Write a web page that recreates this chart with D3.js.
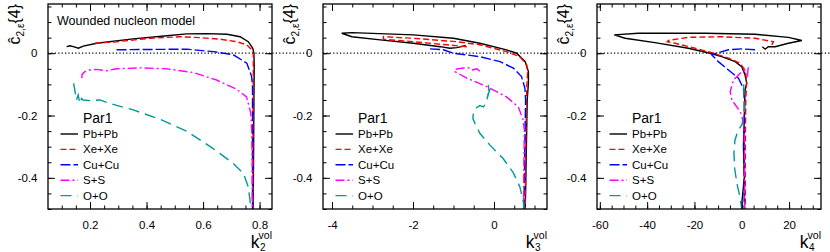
<!DOCTYPE html>
<html>
<head>
<meta charset="utf-8">
<script src="https://cdn.jsdelivr.net/npm/d3@7"></script>
<style>
  body { margin: 0; background: #fff; }
  svg { display: block; }
  text { font-family: "Liberation Sans", Arial, sans-serif; fill: #000; }
</style>
</head>
<body>
<svg id="chart_svg"></svg>
<script>
// curves: [k_n^vol, c2,eps{4}]
var k2_pbpb = [[0.117,0.021],[0.129,0.024],[0.141,0.021],[0.159,0.016],[0.176,0.023],[0.224,0.032],[0.352,0.046],[0.472,0.056],[0.542,0.062],[0.613,0.063],[0.685,0.061],[0.731,0.053],[0.760,0.037],[0.776,0.016],[0.780,0],[0.781,-0.043],[0.780,-0.15],[0.779,-0.3],[0.778,-0.42],[0.777,-0.5]];
var k2_xexe = [[0.218,0.032],[0.294,0.037],[0.412,0.048],[0.519,0.053],[0.589,0.050],[0.660,0.045],[0.719,0.037],[0.755,0.027],[0.772,0.011],[0.778,-0.005],[0.778,-0.043],[0.777,-0.2],[0.777,-0.5]];
var k2_cucu = [[0.294,0.011],[0.4,0.012],[0.542,0.013],[0.637,0.005],[0.707,-0.005],[0.755,-0.032],[0.772,-0.075],[0.775,-0.107],[0.775,-0.3],[0.775,-0.5]];
var k2_ss = [[0.171,-0.080],[0.172,-0.068],[0.182,-0.059],[0.199,-0.054],[0.223,-0.052],[0.259,-0.056],[0.294,-0.050],[0.377,-0.047],[0.471,-0.050],[0.566,-0.062],[0.648,-0.086],[0.719,-0.116],[0.754,-0.140],[0.769,-0.193],[0.772,-0.247],[0.774,-0.35],[0.774,-0.5]];
var k2_oo = [[0.142,-0.097],[0.146,-0.118],[0.152,-0.150],[0.158,-0.134],[0.164,-0.161],[0.170,-0.145],[0.176,-0.150],[0.199,-0.152],[0.235,-0.150],[0.270,-0.161],[0.353,-0.182],[0.447,-0.212],[0.542,-0.250],[0.636,-0.306],[0.707,-0.354],[0.743,-0.386],[0.760,-0.429],[0.769,-0.493],[0.770,-0.5]];

var k3_pbpb = [[-0.70,0.025],[-0.80,0.021],[-0.92,0.018],[-1.09,0.016],[-1.33,0.021],[-1.99,0.032],[-2.81,0.043],[-3.51,0.053],[-3.76,0.064],[-3.51,0.066],[-1.99,0.059],[-1.00,0.048],[-0.35,0.032],[0.31,0.011],[0.56,0],[0.77,-0.027],[0.85,-0.059],[0.85,-0.096],[0.82,-0.15],[0.80,-0.3],[0.78,-0.45],[0.77,-0.5]];
var k3_xexe = [[-0.67,0.021],[-1.17,0.027],[-1.99,0.037],[-2.73,0.045],[-2.73,0.053],[-1.99,0.048],[-0.92,0.037],[-0.35,0.027],[0.31,0.005],[0.64,-0.011],[0.81,-0.038],[0.83,-0.064],[0.81,-0.107],[0.79,-0.25],[0.77,-0.5]];
var k3_cucu = [[-1.58,0.014],[-1.25,0.011],[-1.00,0],[-0.35,-0.011],[0.15,-0.027],[0.48,-0.048],[0.68,-0.075],[0.765,-0.113],[0.78,-0.150],[0.76,-0.3],[0.74,-0.5]];
var k3_ss = [[-0.35,-0.058],[-0.42,-0.050],[-0.55,-0.054],[-0.62,-0.047],[-0.80,-0.048],[-0.97,-0.052],[-0.95,-0.060],[-0.67,-0.080],[-0.18,-0.107],[0.31,-0.140],[0.60,-0.172],[0.72,-0.214],[0.75,-0.247],[0.74,-0.35],[0.73,-0.5]];
var k3_oo = [[-0.14,-0.102],[-0.12,-0.125],[-0.16,-0.135],[-0.10,-0.115],[-0.18,-0.150],[-0.22,-0.165],[-0.26,-0.172],[-0.35,-0.168],[-0.43,-0.175],[-0.51,-0.193],[-0.52,-0.21],[-0.47,-0.225],[-0.35,-0.257],[-0.10,-0.295],[0.22,-0.337],[0.47,-0.382],[0.64,-0.429],[0.73,-0.48],[0.74,-0.5]];

var k4_pbpb = [[8.7,0.021],[9.9,0.013],[11.2,0.021],[14.1,0.021],[19.7,0.032],[25.4,0.041],[19.7,0.051],[5.6,0.061],[-15.5,0.064],[-43.7,0.064],[-53.9,0.059],[-49.3,0.048],[-36.7,0.034],[-22.6,0.016],[-13.4,0],[-8.5,-0.011],[-2.8,-0.027],[0,-0.043],[1.4,-0.070],[2.1,-0.096],[1.4,-0.118],[1.1,-0.204],[0.7,-0.3],[1.1,-0.397],[0,-0.482],[0.2,-0.5]];
var k4_xexe = [[12.7,0.027],[13.4,0.037],[5.6,0.048],[-8.5,0.053],[-22.6,0.051],[-31,0.041],[-31.5,0.037],[-28.2,0.032],[-19.7,0.016],[-12.7,0.002],[-5.6,-0.016],[-0.7,-0.032],[1.4,-0.054],[2.1,-0.086],[1.7,-0.150],[1.5,-0.3],[1.5,-0.5]];
var k4_cucu = [[5.6,0.011],[0,0.014],[-5.6,0.011],[-9.9,0.002],[-12.7,-0.005],[-9.9,-0.027],[-5.6,-0.054],[-1.4,-0.080],[0.7,-0.113],[1.1,-0.150],[1.0,-0.3],[1.0,-0.5]];
var k4_ss = [[2.4,-0.075],[2.7,-0.048],[1.5,-0.055],[0,-0.059],[-3.5,-0.086],[-4.9,-0.123],[-4.2,-0.150],[-2.1,-0.172],[0,-0.198],[1.0,-0.247],[1.2,-0.35],[1.2,-0.5]];
var k4_oo = [[0.8,-0.10],[1.0,-0.15],[1.1,-0.20],[0,-0.23],[-1.7,-0.25],[-2.9,-0.28],[-3.3,-0.32],[-3.0,-0.37],[-2.0,-0.42],[-0.8,-0.46],[0,-0.5]];

var systems = ['Pb+Pb', 'Xe+Xe', 'Cu+Cu', 'S+S', 'O+O'];
var colors = ['#000000', '#ff0000', '#0000ff', '#ff00ff', '#009999'];
var dashes = [null, '6,3', '10,3', '9,3,2,3', '11,6'];

var yTicks = [0, -0.2, -0.4];
var k2Ticks = [0.2, 0.4, 0.6, 0.8];
var k3Ticks = [-4, -2, 0];
var k4Ticks = [-60, -40, -20, 0, 20];

var W = 830, H = 252,
    yTop = 4, yBot = 209, panelW = 224;

var svg = d3.select('svg#chart_svg')
    .attr('width', W)
    .attr('height', H);

var y = d3.scaleLinear().domain([-0.5, 0.158]).range([yBot, yTop]);

// ROOT style labels use a plain hyphen
var fmt1 = function (d) { return d === 0 ? '0' : d3.format('.1f')(d).replace('\u2212', '-'); };
var fmt0 = function (d) { return String(d); };

var panels = [
    { left: 48, dom: [0.0513, 0.844], ticks: k2Ticks, minor: 0.05, fmt: fmt1, sub: '2', curves: [k2_pbpb, k2_xexe, k2_cucu, k2_ss, k2_oo] },
    { left: 323, dom: [-4.222, 1.309], ticks: k3Ticks, minor: 0.5, fmt: fmt0, sub: '3', curves: [k3_pbpb, k3_xexe, k3_cucu, k3_ss, k3_oo] },
    { left: 597, dom: [-61.2, 33.5], ticks: k4Ticks, minor: 5, fmt: fmt0, sub: '4', curves: [k4_pbpb, k4_xexe, k4_cucu, k4_ss, k4_oo] }
];

// dotted zero line, across all pads
panels.forEach(function (p, i) {
    var x1 = p.left, x2 = i < 2 ? panels[i + 1].left - 13 : W;
    svg.append('line')
        .attr('x1', x1).attr('x2', x2)
        .attr('y1', y(0)).attr('y2', y(0))
        .attr('stroke', '#000').attr('stroke-width', 1.2)
        .attr('stroke-dasharray', '1.2,2.2');
});

panels.forEach(function (p, pi) {
    var x = d3.scaleLinear().domain(p.dom).range([p.left, p.left + panelW]);
    var g = svg.append('g');

    g.append('clipPath').attr('id', 'clip' + pi)
        .append('rect')
        .attr('x', p.left).attr('y', yTop)
        .attr('width', panelW).attr('height', yBot - yTop);

    var line = d3.line()
        .x(function (d) { return x(d[0]); })
        .y(function (d) { return y(d[1]); });

    p.curves.forEach(function (c, i) {
        g.append('path')
            .attr('d', line(c))
            .attr('fill', 'none')
            .attr('stroke', colors[i])
            .attr('stroke-width', 1.4)
            .attr('stroke-dasharray', dashes[i])
            .attr('clip-path', 'url(#clip' + pi + ')');
    });

    // minor ticks
    var xMinor = d3.range(Math.ceil(p.dom[0] / p.minor) * p.minor, p.dom[1], p.minor);
    var yMinor = d3.range(-0.5, 0.158, 0.05);

    g.append('g').attr('transform', 'translate(0,' + yBot + ')')
        .call(d3.axisBottom(x).tickValues(xMinor).tickSize(-3.5).tickFormat(''));
    g.append('g').attr('transform', 'translate(0,' + yTop + ')')
        .call(d3.axisTop(x).tickValues(xMinor).tickSize(-3.5).tickFormat(''));
    g.append('g').attr('transform', 'translate(' + p.left + ',0)')
        .call(d3.axisLeft(y).tickValues(yMinor).tickSize(-3.5).tickFormat(''));
    g.append('g').attr('transform', 'translate(' + (p.left + panelW) + ',0)')
        .call(d3.axisRight(y).tickValues(yMinor).tickSize(-3.5).tickFormat(''));

    // major ticks and labels
    var xAx = g.append('g').attr('transform', 'translate(0,' + yBot + ')')
        .call(d3.axisBottom(x).tickValues(p.ticks).tickSize(-7).tickPadding(12).tickFormat(p.fmt));
    g.append('g').attr('transform', 'translate(0,' + yTop + ')')
        .call(d3.axisTop(x).tickValues(p.ticks).tickSize(-7).tickFormat(''));
    var yAx = g.append('g').attr('transform', 'translate(' + p.left + ',0)')
        .call(d3.axisLeft(y).tickValues(yTicks).tickSize(-7).tickPadding(10.5).tickFormat(fmt1));
    g.append('g').attr('transform', 'translate(' + (p.left + panelW) + ',0)')
        .call(d3.axisRight(y).tickValues(yTicks).tickSize(-7).tickFormat(''));

    g.selectAll('.domain').remove();
    g.selectAll('.tick line').attr('stroke', '#000').attr('stroke-width', 1);
    xAx.selectAll('text').attr('font-size', '11.5px').attr('font-family', '"Liberation Sans", Arial, sans-serif').attr('fill', '#000');
    yAx.selectAll('text').attr('font-size', '11.5px').attr('font-family', '"Liberation Sans", Arial, sans-serif').attr('fill', '#000');

    g.append('rect')
        .attr('x', p.left).attr('y', yTop)
        .attr('width', panelW).attr('height', yBot - yTop)
        .attr('fill', 'none').attr('stroke', '#000').attr('stroke-width', 1.3);

    // x title  k_n^vol
    var xr = p.left + panelW;
    g.append('text').attr('x', xr - 12.5).attr('y', 248).attr('text-anchor', 'end')
        .attr('font-size', '17.5px').text('k');
    g.append('text').attr('x', xr).attr('y', 239).attr('text-anchor', 'end')
        .attr('font-size', '10.5px').text('vol');
    g.append('text').attr('x', xr - 12).attr('y', 251).attr('text-anchor', 'start')
        .attr('font-size', '10px').text(p.sub);

    // y title
    var yt = g.append('text')
        .attr('transform', 'translate(' + (p.left - 28) + ',' + yTop + ') rotate(-90)')
        .attr('text-anchor', 'end');
    yt.append('tspan').attr('font-size', '16px').text('\u0109');
    yt.append('tspan').attr('font-size', '10px').attr('dy', 3.5).text('2,\u03b5');
    yt.append('tspan').attr('font-size', '16px').attr('dy', -3.5).text('{4}');

    // legend
    var lx = p.left;
    g.append('text').attr('x', lx + 35).attr('y', 123).attr('font-size', '14px').text('Par1');
    systems.forEach(function (s, i) {
        var ly = 138 + i * 15.4;
        g.append('line')
            .attr('x1', lx + 12.5).attr('x2', lx + 30)
            .attr('y1', ly - 4).attr('y2', ly - 4)
            .attr('stroke', colors[i]).attr('stroke-width', 1.4)
            .attr('stroke-dasharray', dashes[i]);
        g.append('text').attr('x', lx + 35).attr('y', ly).attr('font-size', '11.5px').text(s);
    });
});

svg.append('text').attr('x', 57).attr('y', 25).attr('font-size', '12.5px').text('Wounded nucleon model');
</script>
</body>
</html>
